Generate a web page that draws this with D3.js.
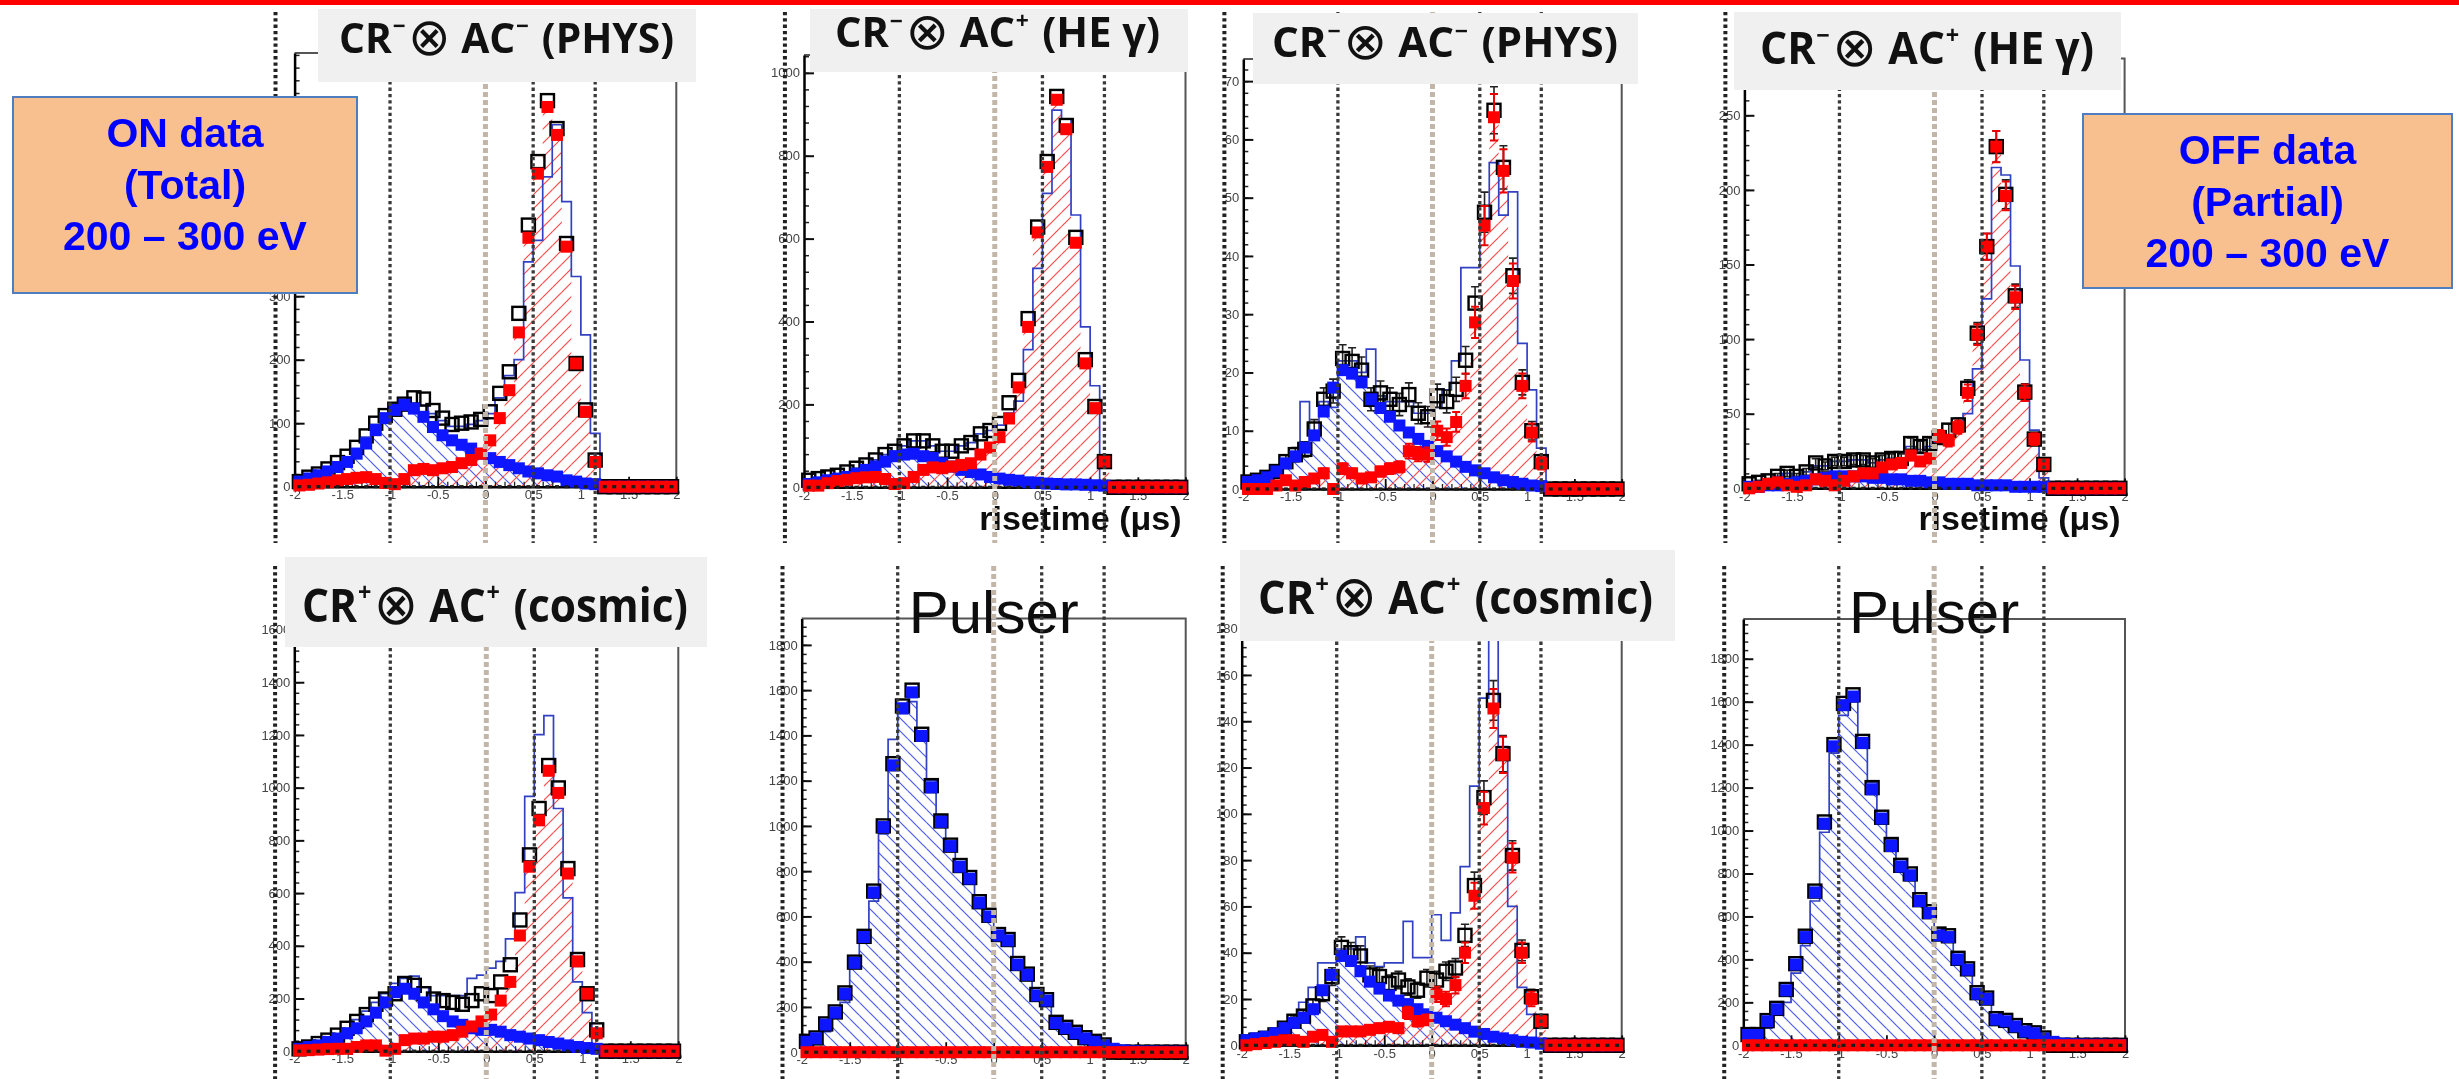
<!DOCTYPE html>
<html>
<head>
<meta charset="utf-8">
<script src="https://cdn.jsdelivr.net/npm/d3@7"></script>
<style>
  html, body { margin: 0; padding: 0; background: #fff; }
  svg { display: block; }
</style>
</head>
<body>
<svg id="fig" width="2459" height="1079"></svg>
<script>
// ---- bins (rise time, us) and cut lines ----
const binCenters = [-1.95,-1.85,-1.75,-1.65,-1.55,-1.45,-1.35,-1.25,-1.15,-1.05,
  -0.95,-0.85,-0.75,-0.65,-0.55,-0.45,-0.35,-0.25,-0.15,-0.05,
  0.05,0.15,0.25,0.35,0.45,0.55,0.65,0.75,0.85,0.95,
  1.05,1.15,1.25,1.35,1.45,1.55,1.65,1.75,1.85,1.95];
const cutLines = [-2.2, -1, 0, 0.5, 1.15];
const xMajor = [-2, -1.5, -1, -0.5, 0, 0.5, 1, 1.5, 2];

// ---- ON data, CR- x AC- (PHYS) ----
const p1Tot = [8,15,20,28,38,48,62,80,100,112, 122,130,140,138,120,108,98,100,102,106, 118,147,181,273,412,512,608,564,383,194, 121,42,0,0,0,0,0,0,0,0];
const p1Red = [2,3,5,7,10,12,14,15,12,6, 4,12,26,28,26,29,31,37,42,52, 73,108,152,243,392,493,598,554,378,194, 118,39,0,0,0,0,0,0,0,0];
const p1Blu = [8,13,18,24,31,39,52,68,89,108, 121,129,123,110,94,81,73,66,60,52, 45,39,34,29,24,21,18,16,10,8, 5,4,0,0,0,0,0,0,0,0];
const p1Fit = [6,12,18,26,36,46,60,78,98,110, 120,128,132,128,115,104,95,95,98,104, 115,140,175,200,354,388,488,570,449,331, 239,84,0,0,0,0,0,0,0,0];

// ---- ON data, CR- x AC+ (HE gamma) ----
const p2Tot = [17,21,25,29,37,46,54,66,79,87, 100,112,112,100,87,87,100,108,129,137, 154,204,258,407,628,786,943,873,603,308, 195,62,0,0,0,0,0,0,0,0];
const p2Red = [4,4,10,15,18,22,24,25,20,8, 10,25,42,48,46,50,54,58,79,96, 121,166,241,387,615,773,935,864,590,299, 191,62,0,0,0,0,0,0,0,0];
const p2Blu = [8,12,17,21,25,33,42,50,62,75, 79,81,75,71,58,50,42,37,31,25, 21,18,16,12,11,9,8,7,7,6, 5,4,0,0,0,0,0,0,0,0];
const p2Fit = [17,21,25,29,37,46,54,66,79,87, 100,112,112,100,87,87,100,108,129,137, 150,179,208,332,528,709,910,889,657,387, 245,15,0,0,0,0,0,0,0,0];

// ---- OFF data, CR- x AC- (PHYS) ----
const p3Tot = [1.2,1.5,2,3,4.7,5.9,6.8,10.3,15.4,16.8, 22.4,21.9,20.4,15.4,16.5,15.4,14.5,16.2,13,12.4, 16,15,17.1,22.1,31.9,47.5,65,55.2,36.6,18.3, 10,4.7,0,0,0,0,0,0,0,0];
const p3Red = [0,0,0,0.6,1.5,0.6,1.2,1.8,2.7,0, 3.5,2.7,1.8,2,3,3.5,3.8,6.5,6,5.9, 10,8.9,11.5,17.7,28.6,45.2,63.8,54.6,35.7,17.7, 9.7,4.4,0,0,0,0,0,0,0,0];
const p3Blu = [1.2,1.5,2,3,4.4,5.6,7.1,9.2,13.3,17.4, 20.4,19.8,18.3,15.4,13.9,12.4,10.9,9.7,8.6,7.4, 6.5,5.6,4.7,3.8,3.2,2.7,2,1.5,1.2,0.9, 0.6,0.5,0,0,0,0,0,0,0,0];
const p3Fit = [1,1.5,2,3,4.5,6,15,10,15,14, 22,22,20,24,16,15,15,15,13,13, 14,17,22,38,38,45,56,47,51,25, 17,7,0,0,0,0,0,0,0,0];

// ---- OFF data, CR- x AC+ (HE gamma) ----
const p4Tot = [3,4,5,8,10,8,11,17,15,18, 18,19,19,17,19,20,20,30,28,30, 34,39,42.5,67,104,162,229,197,129,64.5, 33,16,0,0,0,0,0,0,0,0];
const p4Red = [0,1,3,4,2,1,2,6,5,2, 5,8,10,10,14,16,17,22,18,20, 35,32,41,64,103,162,229,196,128,64, 33,16,0,0,0,0,0,0,0,0];
const p4Blu = [1,1,2,2,3,4,5,6,7,8, 8,8,8,7,7,6,6,5,5,4, 4,3,3,3,2,2,2,2,1,1, 1,1,0,0,0,0,0,0,0,0];
const p4Fit = [3,4,5,8,10,8,11,15,15,18, 18,19,19,17,19,20,20,28,26,28, 32,35,40,50,80,127,215,210,149,86, 39,7,0,0,0,0,0,0,0,0];

// ---- ON data, CR+ x AC+ (cosmic) ----
const p5Tot = [9,16,29,42,61,87,113,139,178,198, 218,257,250,218,198,192,185,178,192,218, 211,263,328,498,745,921,1084,999,693,348, 218,81,0,0,0,0,0,0,0,0];
const p5Red = [3,4,6,8,9,9,16,22,22,2, 9,42,48,48,55,55,61,74,94,113, 139,192,263,439,700,876,1064,980,674,341, 218,68,0,0,0,0,0,0,0,0];
const p5Blu = [9,16,22,35,48,68,87,113,146,185, 224,237,218,185,159,133,113,100,87,81, 81,74,61,55,48,42,35,29,22,16, 12,9,0,0,0,0,0,0,0,0];
const p5Fit = [16,22,29,42,61,87,120,152,185,218, 257,276,285,244,211,211,211,211,276,289, 315,341,426,602,967,1201,1273,921,582,263, 146,20,0,0,0,0,0,0,0,0];

// ---- ON data, Pulser ----
const p6Tot = [48,63,125,178,262,398,512,712,1000,1275, 1530,1600,1405,1178,1022,915,825,772,665,605, 520,498,392,345,255,232,132,110,88,64, 48,32,0,0,0,0,0,0,0,0];
const p6Red = [0,0,0,0,0,0,0,0,0,0, 0,0,0,0,0,0,0,0,0,0, 0,0,0,0,0,0,0,0,0,0, 0,0,0,0,0,0,0,0,0,0];
const p6Blu = [46,61,122,175,258,395,509,706,995,1268, 1520,1590,1398,1170,1018,911,820,767,661,600, 516,494,387,342,251,228,129,106,84,61, 46,30,15,8,4,3,3,2,2,2];
const p6Fit = [30,46,91,152,220,380,494,668,965,1382, 1496,1549,1380,1200,1048,927,820,744,676,600, 532,471,380,334,258,213,144,114,91,68, 46,30,15,5,3,2,2,2,2,2];

// ---- OFF data, CR+ x AC+ (cosmic) ----
const p7Tot = [1.5,2.2,3,4.5,7.4,10.4,12.6,17,22.3,29.7, 42.3,40,38.6,30.4,29.7,26.7,28.2,25.2,23.8,29, 28.2,32,33.4,47.5,69,107,149,126,82,41, 21,10.4,0,0,0,0,0,0,0,0];
const p7Red = [0,0.5,1,1.5,2.2,2.2,1.5,3.7,4.5,1.5, 6,6,6,6.7,7.4,8,7.4,14,10.4,11, 22,20,26,40,64.6,102.5,145.5,125.5,81,40, 20,10.4,0,0,0,0,0,0,0,0];
const p7Blu = [2.2,3,3.7,5.2,7.4,9.7,11.9,15.6,23.8,30.4, 38.6,36.4,32,27.5,24.5,21.5,19.3,17.8,15.6,13.4, 11.9,10.4,8.9,7.4,5.9,4.9,3.7,3,2.2,1.5, 1.2,0.7,0,0,0,0,0,0,0,0];
const p7Fit = [1.5,2.2,3,4.5,7.4,10.4,18.6,25,35.6,35.6, 41.6,41.6,46.8,35.6,34,35.6,35.6,53.5,37.9,37.9, 56.4,45.3,57.2,77.2,112,150,230,129,60,25, 13.4,3,0,0,0,0,0,0,0,0];

// ---- OFF data, Pulser ----
const p8Tot = [50,50,115,172,260,380,508,718,1040,1400, 1592,1632,1415,1200,1062,935,838,798,678,622, 518,510,405,356,245,220,124,116,92,68, 58,34,0,0,0,0,0,0,0,0];
const p8Red = [0,0,0,0,0,0,0,0,0,0, 0,0,0,0,0,0,0,0,0,0, 0,0,0,0,0,0,0,0,0,0, 0,0,0,0,0,0,0,0,0,0];
const p8Blu = [48,48,112,168,256,376,504,712,1032,1392, 1584,1624,1408,1192,1056,928,832,792,672,616, 512,504,400,352,240,216,120,112,88,64, 56,32,16,8,5,4,3,3,2,2];
const p8Fit = [16,32,80,144,200,336,464,672,992,1360, 1536,1600,1392,1224,1072,960,856,768,688,624, 544,480,392,328,240,192,120,96,72,48, 35,24,8,6,5,4,3,3,2,2];

// ---- titles ----
const titlePhys   = [{t:'CR'},{t:'\u2212',sup:true},{t:'\u2297',sym:true},{t:' AC'},{t:'\u2212',sup:true},{t:' (PHYS)'}];
const titleHeg    = [{t:'CR'},{t:'\u2212',sup:true},{t:'\u2297',sym:true},{t:' AC'},{t:'+',sup:true},{t:' (HE \u03b3)'}];
const titleCosmic = [{t:'CR'},{t:'+',sup:true},{t:'\u2297',sym:true},{t:' AC'},{t:'+',sup:true},{t:' (cosmic)'}];
const onLines  = ['ON data', '(Total)', '200 \u2013 300 eV'];
const offLines = ['OFF data', '(Partial)', '200 \u2013 300 eV'];

// ---- layout (pixels) ----
const panels = [
  {tot:p1Tot, red:p1Red, blu:p1Blu, fit:p1Fit, x0:294.6, x1:676.3, y0:486.7, yTop:53, ymax:683, step:100, err:0,
   title:titlePhys, box:{x:318, y:9, w:378, h:73, tx:339, tw:335, ty:53, fs:42}, row:0, labelMinY:290},
  {tot:p2Tot, red:p2Red, blu:p2Blu, fit:p2Fit, x0:804, x1:1185.5, y0:487.3, yTop:55, ymax:1043, step:200, err:0,
   title:titleHeg, box:{x:810, y:9, w:378, h:63, tx:835, tw:325, ty:47, fs:41}, risetime:true, row:0},
  {tot:p3Tot, red:p3Red, blu:p3Blu, fit:p3Fit, x0:1243.3, x1:1621.7, y0:489, yTop:59, ymax:73.8, step:10, err:0.5,
   title:titlePhys, box:{x:1253, y:13, w:385, h:71, tx:1272, tw:346, ty:57, fs:41}, row:0},
  {tot:p4Tot, red:p4Red, blu:p4Blu, fit:p4Fit, x0:1744.4, x1:2124.6, y0:488.3, yTop:58.6, ymax:288, step:50, err:0.69,
   title:titleHeg, box:{x:1734, y:12, w:387, h:78, tx:1760, tw:334, ty:64, fs:44}, risetime:true, row:0},
  {tot:p5Tot, red:p5Red, blu:p5Blu, fit:p5Fit, x0:294.3, x1:678.3, y0:1051.2, yTop:590, ymax:1750, step:200, err:0,
   title:titleCosmic, box:{x:285, y:557, w:422, h:90, tx:302, tw:386, ty:622, fs:46}, row:1},
  {tot:p6Tot, red:p6Red, blu:p6Blu, fit:p6Fit, x0:801.7, x1:1185.7, y0:1052.2, yTop:618.4, ymax:1917, step:200, err:0,
   pulser:true, row:1},
  {tot:p7Tot, red:p7Red, blu:p7Blu, fit:p7Fit, x0:1241.7, x1:1621.7, y0:1045.3, yTop:605.5, ymax:190, step:20, err:0.7,
   title:titleCosmic, box:{x:1240, y:550, w:435, h:91, tx:1258, tw:395, ty:614, fs:46}, row:1},
  {tot:p8Tot, red:p8Red, blu:p8Blu, fit:p8Fit, x0:1743.3, x1:2125, y0:1045.3, yTop:619, ymax:1985, step:200, err:0,
   pulser:true, row:1}
];
const rowSpan = [[12, 543], [566, 1079]];

const svg = d3.select('#fig');
const defs = svg.append('defs');

// soften like the scanned slide
defs.append('filter').attr('id', 'soft').attr('x', '-5%').attr('y', '-5%').attr('width', '110%').attr('height', '110%')
  .append('feGaussianBlur').attr('stdDeviation', 0.6);

// hatch patterns
const hr = defs.append('pattern').attr('id', 'hatchRed').attr('patternUnits', 'userSpaceOnUse')
  .attr('width', 14).attr('height', 14);
hr.append('path').attr('d', 'M0,14 L14,0 M-3.5,3.5 L3.5,-3.5 M10.5,17.5 L17.5,10.5')
  .attr('stroke', '#ff4a4a').attr('stroke-width', 1.2);
const hb = defs.append('pattern').attr('id', 'hatchBlue').attr('patternUnits', 'userSpaceOnUse')
  .attr('width', 13).attr('height', 13);
hb.append('path').attr('d', 'M0,0 L13,13 M-3.25,9.75 L3.25,16.25 M9.75,-3.25 L16.25,3.25')
  .attr('stroke', '#4a5cf0').attr('stroke-width', 1.2);

// top red bar
svg.append('rect').attr('x', 0).attr('y', 0).attr('width', 2459).attr('height', 5).attr('fill', '#ff0000');

const plotLayer = svg.append('g').attr('filter', 'url(#soft)');
const cutLayer = svg.append('g');
const overLayer = svg.append('g');

panels.forEach((p, k) => {
  const g = plotLayer.append('g');
  const x = d3.scaleLinear().domain([-2, 2]).range([p.x0, p.x1]);
  const y = d3.scaleLinear().domain([0, p.ymax]).range([p.y0, p.yTop]);
  const half = 0.05;

  defs.append('clipPath').attr('id', 'clip' + k).append('rect')
    .attr('x', p.x0).attr('y', p.yTop).attr('width', p.x1 - p.x0).attr('height', p.y0 - p.yTop);

  const hist = g.append('g').attr('clip-path', `url(#clip${k})`);
  hist.selectAll('rect.hb').data(p.blu).join('rect').attr('class', 'hb')
    .attr('x', (d, i) => x(binCenters[i] - half))
    .attr('width', (d, i) => x(binCenters[i] + half) - x(binCenters[i] - half))
    .attr('y', d => y(d)).attr('height', d => y(0) - y(d))
    .attr('fill', 'url(#hatchBlue)');
  hist.selectAll('rect.hr').data(p.red).join('rect').attr('class', 'hr')
    .attr('x', (d, i) => x(binCenters[i] - half))
    .attr('width', (d, i) => x(binCenters[i] + half) - x(binCenters[i] - half))
    .attr('y', d => y(d)).attr('height', d => y(0) - y(d))
    .attr('fill', 'url(#hatchRed)');

  const pts = [[-2, 0]].concat(p.fit.map((v, i) => [binCenters[i] - half, v]), [[2, p.fit[p.fit.length - 1]], [2, 0]]);
  hist.append('path')
    .attr('d', d3.line().x(d => x(d[0])).y(d => y(d[1])).curve(d3.curveStepAfter)(pts))
    .attr('fill', 'none').attr('stroke', '#3140c4').attr('stroke-width', 1.7);

  // frame top / right
  g.append('path')
    .attr('d', `M${p.x0},${p.yTop} H${p.x1} V${p.y0}`)
    .attr('fill', 'none').attr('stroke', '#555').attr('stroke-width', 2);

  // axes
  const yMajor = d3.range(0, p.ymax + 1e-9, p.step);
  const yMinor = d3.range(0, p.ymax + 1e-9, p.step / 5);
  const axisFont = g => g.selectAll('text').attr('font-family', "'Liberation Sans', Arial, sans-serif")
    .attr('font-size', 13).attr('fill', '#444');

  g.append('g').attr('transform', `translate(${p.x0},0)`)
    .call(d3.axisLeft(y).tickValues(yMinor).tickSize(-5).tickFormat(''))
    .call(a => a.select('.domain').remove())
    .call(a => a.selectAll('line').attr('stroke', '#222').attr('stroke-width', 1.5));
  g.append('g').attr('transform', `translate(${p.x0},0)`)
    .call(d3.axisLeft(y).tickValues(yMajor).tickSizeInner(-10).tickSizeOuter(0).tickPadding(4).tickFormat(d => String(d)))
    .call(a => a.select('.domain').attr('stroke', '#000').attr('stroke-width', 2.5))
    .call(a => a.selectAll('line').attr('stroke', '#111').attr('stroke-width', 2))
    .call(axisFont)
    .call(a => { if (p.labelMinY) a.selectAll('.tick').filter(d => y(d) < p.labelMinY).select('text').remove(); });

  g.append('g').attr('transform', `translate(0,${p.y0})`)
    .call(d3.axisBottom(x).tickValues(d3.range(-2, 2.0001, 0.1)).tickSize(-5).tickFormat(''))
    .call(a => a.select('.domain').remove())
    .call(a => a.selectAll('line').attr('stroke', '#222').attr('stroke-width', 1.3));
  g.append('g').attr('transform', `translate(0,${p.y0})`)
    .call(d3.axisBottom(x).tickValues(xMajor).tickSizeInner(-10).tickSizeOuter(0).tickPadding(3).tickFormat(d => String(d)))
    .call(a => a.select('.domain').attr('stroke', '#000').attr('stroke-width', 2.5))
    .call(a => a.selectAll('line').attr('stroke', '#111').attr('stroke-width', 1.8))
    .call(axisFont);

  // error bars with caps
  const errBars = (cls, arr, colour, w) => {
    const eg = g.selectAll('g.' + cls).data(arr).join('g').attr('class', cls);
    const lo = d => y(Math.max(0, d - p.err * Math.sqrt(d)));
    const hi = d => y(d + p.err * Math.sqrt(d));
    eg.append('line')
      .attr('x1', (d, i) => x(binCenters[i])).attr('x2', (d, i) => x(binCenters[i]))
      .attr('y1', hi).attr('y2', lo).attr('stroke', colour).attr('stroke-width', w);
    eg.append('path')
      .attr('d', (d, i) => `M${x(binCenters[i]) - 4},${hi(d)} h8 M${x(binCenters[i]) - 4},${lo(d)} h8`)
      .attr('stroke', colour).attr('stroke-width', w);
  };
  if (p.err > 0) errBars('eb', p.tot, '#222', 1.6);

  // markers
  const s0 = 13, s1 = 12;
  g.selectAll('rect.tot').data(p.tot).join('rect').attr('class', 'tot')
    .attr('x', (d, i) => x(binCenters[i]) - s0 / 2).attr('y', d => y(d) - s0 / 2)
    .attr('width', s0).attr('height', s0)
    .attr('fill', 'none').attr('stroke', '#000').attr('stroke-width', 2.4);
  g.selectAll('rect.blu').data(p.blu).join('rect').attr('class', 'blu')
    .attr('x', (d, i) => x(binCenters[i]) - s1 / 2).attr('y', d => y(d) - s1 / 2)
    .attr('width', s1).attr('height', s1).attr('fill', '#0a18ff');
  if (p.err > 0) errBars('er', p.red, '#ee0000', 2);
  g.selectAll('rect.red').data(p.red).join('rect').attr('class', 'red')
    .attr('x', (d, i) => x(binCenters[i]) - s1 / 2).attr('y', d => y(d) - s1 / 2)
    .attr('width', s1).attr('height', s1).attr('fill', '#ff0000');
  g.selectAll('rect.zd').data(binCenters).join('rect').attr('class', 'zd')
    .attr('x', d => x(d) - 2).attr('y', y(0) - 1.6).attr('width', 4).attr('height', 3.2)
    .attr('fill', '#1a1a1a');

  if (p.pulser) {
    g.append('text').attr('x', (p.x0 + p.x1) / 2).attr('y', 633)
      .attr('text-anchor', 'middle').attr('font-family', "'Liberation Sans', Arial, sans-serif")
      .attr('font-size', 60).attr('fill', '#111').text('Pulser');
  }
  if (p.risetime) {
    g.append('text').attr('x', p.x1 - 4).attr('y', 530).attr('text-anchor', 'end')
      .attr('font-family', "'Liberation Sans', Arial, sans-serif").attr('font-weight', 700)
      .attr('font-size', 34).attr('fill', '#111').text('risetime (\u03bcs)');
  }

  // dotted cut lines drawn over the plots
  const span = rowSpan[p.row];
  cutLayer.selectAll(null).data(cutLines).join('line')
    .attr('x1', d => x(d)).attr('x2', d => x(d))
    .attr('y1', span[0]).attr('y2', span[1])
    .attr('stroke', d => d === 0 ? '#c2b6a8' : (d < -2 ? '#222' : '#3a3a3a'))
    .attr('stroke-width', d => d === 0 ? 5 : (d < -2 ? 4 : 3.3))
    .attr('stroke-dasharray', d => d === 0 ? '5,3' : '3.3,3');

  // title box from the slide
  if (p.box) {
    const b = p.box;
    overLayer.append('rect').attr('x', b.x).attr('y', b.y).attr('width', b.w).attr('height', b.h)
      .attr('fill', '#f0f0f0');
    const t = overLayer.append('text').attr('x', b.tx).attr('y', b.ty)
      .attr('font-family', "'Open Sans', 'Noto Sans', sans-serif").attr('font-weight', 700)
      .attr('font-size', b.fs).attr('fill', '#111')
      .attr('textLength', b.tw).attr('lengthAdjust', 'spacingAndGlyphs');
    let cur = 0, afterSup = false;
    p.title.forEach(part => {
      const target = part.sup ? -b.fs * 0.45 : (part.sym ? b.fs * 0.04 : 0);
      const s = t.append('tspan').attr('dy', target - cur).text(part.t);
      if (afterSup) s.attr('dx', b.fs * 0.06);
      cur = target;
      afterSup = !!part.sup;
      if (part.sup) s.attr('font-size', b.fs * 0.55).attr('dx', b.fs * 0.02);
      if (part.sym) s.attr('font-family', "'DejaVu Sans', sans-serif").attr('font-weight', 400).attr('font-size', b.fs * 1.25);
    });
  }
});

// ON / OFF labels
function labelBox(bx, lines) {
  overLayer.append('rect').attr('x', bx.x).attr('y', bx.y).attr('width', bx.w).attr('height', bx.h)
    .attr('fill', '#f8c08f').attr('stroke', '#4f7ec0').attr('stroke-width', 2);
  overLayer.selectAll(null).data(lines).join('text')
    .attr('x', bx.x + bx.w / 2).attr('y', (d, i) => bx.ty + i * 51.5)
    .attr('text-anchor', 'middle')
    .attr('font-family', "'Liberation Sans', Arial, sans-serif").attr('font-weight', 700)
    .attr('font-size', 41).attr('fill', '#0000ff').text(d => d);
}
labelBox({x: 13, y: 97, w: 344, h: 196, ty: 147}, onLines);
labelBox({x: 2083, y: 114, w: 369, h: 174, ty: 164}, offLines);
</script>
</body>
</html>
